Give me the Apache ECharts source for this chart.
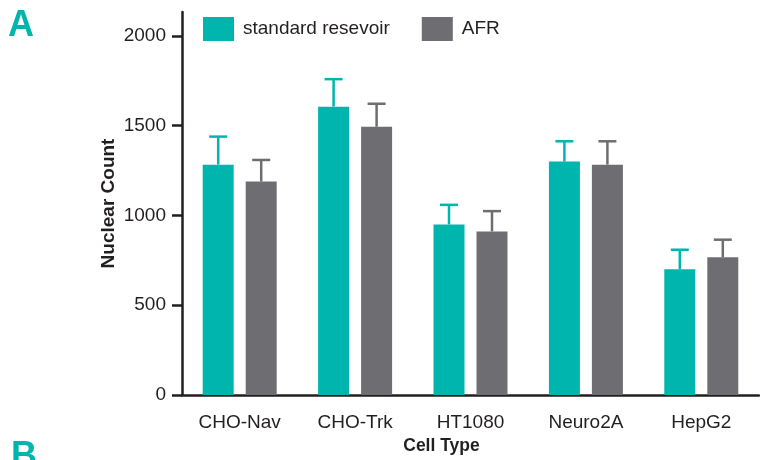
<!DOCTYPE html>
<html>
<head>
<meta charset="utf-8">
<script src="https://cdn.jsdelivr.net/npm/echarts@6/dist/echarts.min.js"></script>
<style>html,body{margin:0;padding:0;background:#fff}#c{width:760px;height:460px}</style>
</head>
<body>
<div id="c"></div>
<script>
var categories = ['CHO-Nav', 'CHO-Trk', 'HT1080', 'Neuro2A', 'HepG2'];
var standardValues = [1283, 1606, 950, 1300, 700];
var standardErrTop = [1439, 1759, 1059, 1413, 809];
var afrValues = [1189, 1494, 911, 1283, 767];
var afrErrTop = [1309, 1622, 1024, 1413, 865];
var yTicks = [0, 500, 1000, 1500, 2000];

var TEAL = '#00b5ad';
var GRAY = '#6e6d72';
var TEXT = '#231f20';
var FONT = 'Liberation Sans';
var BAR_W = 31;
var BAR_GAP = 12;

function errSeries(name, values, tops, color, sign) {
  return {
    type: 'custom',
    name: name + ' err',
    z: 3,
    silent: true,
    data: values.map(function (v, i) { return [i, v, tops[i]]; }),
    renderItem: function (params, api) {
      var base = api.coord([api.value(0), api.value(1)]);
      var top = api.coord([api.value(0), api.value(2)]);
      var off = sign * (BAR_W + BAR_GAP) / 2;
      var x = base[0] + off;
      var half = 9;
      var st = { stroke: color, lineWidth: 2.5 };
      return {
        type: 'group',
        children: [
          { type: 'line', shape: { x1: x, y1: base[1], x2: x, y2: top[1] }, style: st },
          { type: 'line', shape: { x1: x - half, y1: top[1], x2: x + half, y2: top[1] }, style: st }
        ]
      };
    }
  };
}

var chart = echarts.init(document.getElementById('c'));
chart.setOption({
  animation: false,
  textStyle: { fontFamily: FONT },
  title: [
    { text: 'A', left: 3, top: 3, textStyle: { color: TEAL, fontSize: 36, fontWeight: 'bold', fontFamily: FONT } },
    { text: 'B', left: 6, top: 434, textStyle: { color: TEAL, fontSize: 36, fontWeight: 'bold', fontFamily: FONT } }
  ],
  legend: {
    left: 198, top: 12,
    itemWidth: 31, itemHeight: 24, itemGap: 32,
    icon: 'rect',
    data: ['standard resevoir', 'AFR'],
    textStyle: { fontSize: 19, color: TEXT, fontFamily: FONT, padding: [0, 0, 0, 4] }
  },
  grid: { left: 182, right: 1, top: 12, bottom: 63, containLabel: false },
  xAxis: {
    type: 'category',
    data: categories,
    name: 'Cell Type',
    nameLocation: 'middle',
    nameGap: 42,
    nameMoveOverlap: false,
    nameTextStyle: { fontSize: 17.5, fontWeight: 'bold', color: TEXT, fontFamily: FONT, padding: [0, 58, 0, 0] },
    axisLine: { lineStyle: { color: TEXT, width: 2.5 } },
    axisTick: { alignWithLabel: true, length: 10, lineStyle: { color: TEXT, width: 2.5 } },
    axisLabel: { fontSize: 19, color: TEXT, margin: 18, fontFamily: FONT }
  },
  yAxis: {
    type: 'value',
    min: 0, max: 2133,
    name: 'Nuclear Count',
    nameLocation: 'middle',
    nameGap: 64,
    nameMoveOverlap: false,
    nameTextStyle: { fontSize: 19, fontWeight: 'bold', color: TEXT, fontFamily: FONT },
    splitLine: { show: false },
    axisLine: { show: true, lineStyle: { color: TEXT, width: 2.5 } },
    axisTick: { show: true, length: 10, customValues: yTicks, lineStyle: { color: TEXT, width: 2.5 } },
    axisLabel: { fontSize: 19, color: TEXT, margin: 16, customValues: yTicks, fontFamily: FONT,
      formatter: function (v) { return String(v); } }
  },
  series: [
    {
      name: 'standard resevoir', type: 'bar', data: standardValues,
      barWidth: BAR_W, barGap: (BAR_GAP / BAR_W * 100) + '%',
      itemStyle: { color: TEAL }
    },
    {
      name: 'AFR', type: 'bar', data: afrValues,
      barWidth: BAR_W, barGap: (BAR_GAP / BAR_W * 100) + '%',
      itemStyle: { color: GRAY }
    },
    errSeries('standard resevoir', standardValues, standardErrTop, TEAL, -1),
    errSeries('AFR', afrValues, afrErrTop, GRAY, 1)
  ]
});
</script>
</body>
</html>
